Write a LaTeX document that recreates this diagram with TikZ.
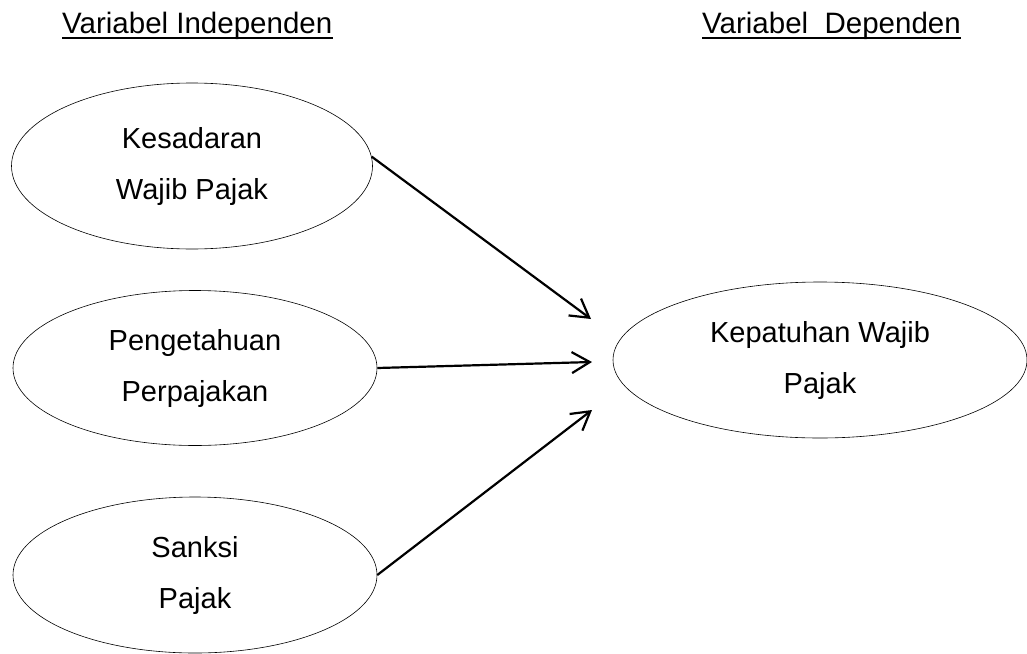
\documentclass[tikz,border=0pt]{standalone}
\usepackage{fontspec}
\setmainfont{Liberation Sans}
\usetikzlibrary{shapes.geometric,arrows.meta}

\begin{document}
\begin{tikzpicture}[
        x=1pt, y=-1pt,
        every node/.style={font=\fontsize{29}{51}\selectfont},
        var/.style={draw, ellipse, line width=0.6pt, inner sep=0pt, align=center},
        head/.style={font=\fontsize{29.5}{34}\selectfont, inner sep=0pt, anchor=base west},
        garis/.style={line width=2.8pt},
        arr/.style={line width=2.2pt, -{Straight Barb[length=18pt, width=21pt, line width=2.2pt]}}
    ]
        \useasboundingbox (0,0) rectangle (1027,653);

        % Judul
        \node[head] (hi) at (62,33) {Variabel Independen};
        \node[head] (hd) at (702,33) {Variabel\ \ Dependen};
        \draw[garis] ([yshift=-5pt]hi.base west) -- ([yshift=-5pt]hi.base east);
        \draw[garis] ([yshift=-5pt]hd.base west) -- ([yshift=-5pt]hd.base east);

        % Variabel independen (kiri)
        \node[var, minimum width=361pt, minimum height=166pt] (kes) at (192,166) {Kesadaran\\Wajib Pajak};
        \node[var, minimum width=364pt, minimum height=155pt] (pen) at (195,368) {Pengetahuan\\Perpajakan};
        \node[var, minimum width=364pt, minimum height=156pt] (san) at (195,575) {Sanksi\\Pajak};

        % Variabel dependen (kanan)
        \node[var, minimum width=414pt, minimum height=156pt] (kep) at (820,360) {Kepatuhan Wajib\\Pajak};

        % Ujung panah
        \coordinate (t1) at (591,319);
        \coordinate (t2) at (592,362);
        \coordinate (t3) at (592,410);

        % Panah
        \draw[arr] (kes.3) -- (t1);
        \draw[arr] (pen.east) -- (t2);
        \draw[arr] (san.east) -- (t3);

    \end{tikzpicture}
\end{document}
